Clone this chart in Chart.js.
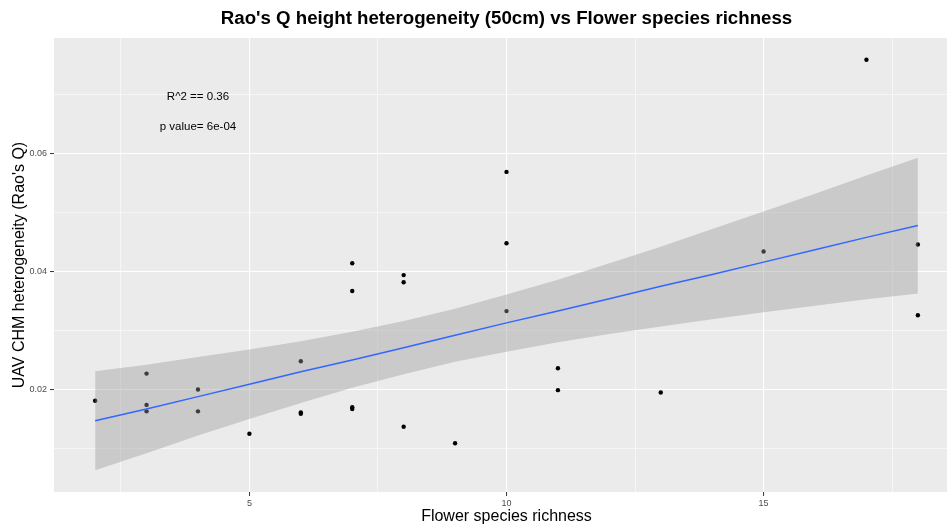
<!DOCTYPE html>
<html>
<head>
<meta charset="utf-8">
<title>Rao's Q vs Flower species richness</title>
<script src="https://cdn.jsdelivr.net/npm/chart.js@4.4.0/dist/chart.umd.min.js"></script>
<style>
    html, body { margin: 0; padding: 0; background: #ffffff; overflow: hidden; }
    #wrap { width: 959px; height: 526px; }
</style>
</head>
<body>
<div id="wrap"><canvas id="raoChart" width="959" height="526"></canvas></div>
<script>
// Observed plots: flower species richness vs Rao's Q height heterogeneity
const richness = [2, 3, 3, 3, 4, 4, 5, 6, 6, 6, 7, 7, 7, 7, 8, 8, 8, 9, 10, 10, 10, 11, 11, 13, 15, 17, 18, 18];
const raosQ = [0.0181, 0.0227, 0.0174, 0.0163, 0.0200, 0.0163, 0.0125, 0.0248, 0.0161, 0.0159,
    0.0414, 0.0367, 0.0170, 0.0167, 0.0394, 0.0382, 0.0137, 0.0109, 0.0569, 0.0448,
    0.0333, 0.0236, 0.0199, 0.0195, 0.0434, 0.0759, 0.0446, 0.0326];

// Linear fit (lm) and its confidence band
const fitX = [2, 3, 4, 5, 6, 7, 8, 9, 10, 11, 12, 13, 14, 15, 16, 17, 18];
const fitY = [0.0147, 0.0167, 0.0188, 0.0209, 0.0230, 0.0250, 0.0271, 0.0292, 0.0313, 0.0333, 0.0354, 0.0375, 0.0395, 0.0416, 0.0437, 0.0458, 0.0478];
const bandUpper = [0.0231, 0.0242, 0.0255, 0.0268, 0.0282, 0.0298, 0.0316, 0.0337, 0.0361, 0.0386, 0.0414, 0.0442, 0.0472, 0.0502, 0.0532, 0.0563, 0.0593];
const bandLower = [0.0063, 0.0092, 0.0122, 0.0150, 0.0177, 0.0203, 0.0226, 0.0247, 0.0264, 0.0280, 0.0294, 0.0307, 0.0319, 0.0331, 0.0342, 0.0353, 0.0363];

// Tick labels
const xTickLabels = [5, 10, 15];
const yTickLabels = [0.02, 0.04, 0.06];

// Text annotations placed in data coordinates
const noteText = ['R^2 == 0.36', 'p value= 6e-04'];
const noteX = [4, 4];
const noteY = [0.07, 0.065];

const FONT = '"Liberation Sans", Arial, sans-serif';

function isLabelled(list, v) {
    return list.some(t => Math.abs(t - v) < 1e-6);
}

function toXY(xs, ys) {
    return xs.map((x, i) => ({ x: x, y: ys[i] }));
}

// Grey panel background and the title / annotation text
const ggPanel = {
    id: 'ggPanel',
    beforeDraw(chart) {
        const c = chart.ctx;
        const a = chart.chartArea;
        c.save();
        c.fillStyle = '#ffffff';
        c.fillRect(0, 0, chart.width, chart.height);
        c.fillStyle = '#ebebeb';
        c.fillRect(a.left, a.top, a.right - a.left, a.bottom - a.top);
        c.restore();
    },
    afterDatasetsDraw(chart) {
        const c = chart.ctx;
        const a = chart.chartArea;
        const xs = chart.scales.x;
        const ys = chart.scales.y;
        c.save();
        c.textAlign = 'center';
        c.textBaseline = 'middle';
        c.fillStyle = '#000000';
        c.font = '11.5px ' + FONT;
        noteText.forEach((t, i) => {
            c.fillText(t, xs.getPixelForValue(noteX[i]), ys.getPixelForValue(noteY[i]) + 2.5);
        });
        c.font = 'bold 18.7px ' + FONT;
        c.fillText("Rao's Q height heterogeneity (50cm) vs Flower species richness", (a.left + a.right) / 2, 19);
        c.restore();
    }
};

const ctx = document.getElementById('raoChart').getContext('2d');
const raoChart = new Chart(ctx, {
    type: 'scatter',
    data: {
        datasets: [
            {
                type: 'line',
                label: 'fit',
                data: toXY(fitX, fitY),
                borderColor: '#3366ff',
                borderWidth: 1.5,
                pointRadius: 0,
                tension: 0,
                fill: false,
                order: 0
            },
            {
                type: 'line',
                label: 'upper',
                data: toXY(fitX, bandUpper),
                borderColor: 'rgba(0,0,0,0)',
                borderWidth: 0,
                pointRadius: 0,
                backgroundColor: 'rgba(153,153,153,0.4)',
                fill: '+1',
                order: 1
            },
            {
                type: 'line',
                label: 'lower',
                data: toXY(fitX, bandLower),
                borderColor: 'rgba(0,0,0,0)',
                borderWidth: 0,
                pointRadius: 0,
                fill: false,
                order: 1
            },
            {
                label: 'plots',
                data: toXY(richness, raosQ),
                backgroundColor: '#000000',
                borderWidth: 0,
                pointRadius: 2.2,
                order: 2
            }
        ]
    },
    options: {
        responsive: false,
        animation: false,
        events: [],
        layout: { autoPadding: false, padding: { top: 38, right: 0, left: 0, bottom: 0 } },
        plugins: {
            legend: { display: false },
            tooltip: { enabled: false },
            title: { display: false }
        },
        scales: {
            x: {
                type: 'linear',
                min: 1.2,
                max: 18.8,
                afterFit: s => { s.height = 34; s.paddingLeft = 0; s.paddingRight = 0; },
                border: { display: false },
                grid: {
                    color: '#ffffff',
                    lineWidth: c => isLabelled(xTickLabels, c.tick.value) ? 1.1 : 0.55,
                    tickLength: 4,
                    tickWidth: 1,
                    tickColor: c => isLabelled(xTickLabels, c.tick.value) ? '#333333' : 'rgba(0,0,0,0)'
                },
                ticks: {
                    stepSize: 2.5,
                    includeBounds: false,
                    autoSkip: false,
                    maxRotation: 0,
                    padding: 2,
                    color: '#4d4d4d',
                    font: { family: FONT, size: 9 },
                    callback: v => isLabelled(xTickLabels, v) ? String(Math.round(v)) : ''
                },
                title: {
                    display: true,
                    text: 'Flower species richness',
                    color: '#000000',
                    font: { family: FONT, size: 16 },
                    padding: { top: 0, bottom: 0 }
                }
            },
            y: {
                type: 'linear',
                min: 0.00263,
                max: 0.0796,
                afterFit: s => { s.width = 54; },
                border: { display: false },
                grid: {
                    color: '#ffffff',
                    lineWidth: c => isLabelled(yTickLabels, c.tick.value) ? 1.1 : 0.55,
                    tickLength: 4,
                    tickWidth: 1,
                    tickColor: c => isLabelled(yTickLabels, c.tick.value) ? '#333333' : 'rgba(0,0,0,0)'
                },
                ticks: {
                    stepSize: 0.01,
                    includeBounds: false,
                    autoSkip: false,
                    padding: 3,
                    color: '#4d4d4d',
                    font: { family: FONT, size: 9 },
                    callback: v => isLabelled(yTickLabels, v) ? v.toFixed(2) : ''
                },
                title: {
                    display: true,
                    text: "UAV CHM heterogeneity (Rao's Q)",
                    color: '#000000',
                    font: { family: FONT, size: 16 },
                    padding: { top: 10.4, bottom: 0 }
                }
            }
        }
    },
    plugins: [ggPanel]
});
</script>
</body>
</html>
